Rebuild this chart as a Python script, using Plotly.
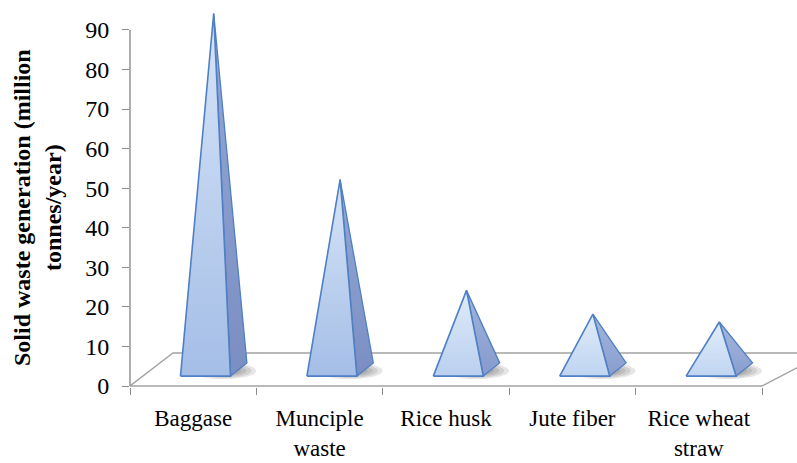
import numpy as np
import plotly.graph_objects as go

# ---- data -------------------------------------------------------------
categories = ["Baggase", "Munciple waste", "Rice husk", "Jute fiber", "Rice wheat straw"]
tick_labels = ["Baggase", "Munciple<br>waste", "Rice husk", "Jute fiber", "Rice wheat<br>straw"]
waste_mt = [90, 48, 20, 14, 12]          # million tonnes / year
y_ticks = [0, 10, 20, 30, 40, 50, 60, 70, 80, 90]

# ---- canvas / scale geometry -----------------------------------------
W, H = 797, 463
PLOT_L = 130            # left edge of plotting area (px)
PLOT_B = 387            # bottom edge of plotting area (px)
UNIT_X = 126.4          # px per category slot
UNIT_Y = 3.956          # px per million tonnes
X_MIN = -0.5
X_MAX = X_MIN + (W - PLOT_L) / UNIT_X
Y_MIN = -1.0 / UNIT_Y
Y_MAX = Y_MIN + PLOT_B / UNIT_Y

# oblique "3-D" depth projection
FLOOR_DY = 33 / UNIT_Y          # floor depth in value units
FLOOR_DX_L = 43 / UNIT_X        # receding offset at the left edge
FLOOR_DX_R = 63 / UNIT_X        # receding offset at the right edge
PYR_DX = 41 / UNIT_X            # receding offset per unit depth for the pyramids
PYR_DY = 33 / UNIT_Y
HALF_W = 25 / UNIT_X            # half width of a pyramid base
D_FRONT, D_BACK = 0.30, 0.70    # base depth span on the floor
D_MID = 0.5 * (D_FRONT + D_BACK)

GRAY = "#8c8c8c"
EDGE = "#4f7fc4"
FONT = "Liberation Serif"


def proj(x, v, d):
    return x + d * PYR_DX, v + d * PYR_DY


def mix(c1, c2, t):
    a = [int(c1[i:i + 2], 16) for i in (1, 3, 5)]
    b = [int(c2[i:i + 2], 16) for i in (1, 3, 5)]
    return "#" + "".join(f"{round(p + (q - p) * t):02x}" for p, q in zip(a, b))


fig = go.Figure()

# floor of the chart
n = len(categories)
fx = [X_MIN, X_MIN + n, X_MIN + n + FLOOR_DX_R, X_MIN + FLOOR_DX_L, X_MIN]
fy = [0, 0, FLOOR_DY, FLOOR_DY, 0]
fig.add_trace(go.Scatter(x=fx, y=fy, mode="lines", fill="toself",
                         fillcolor="white", line=dict(color="#a3a3a3", width=1.4),
                         hoverinfo="skip", showlegend=False))

# soft shadows beneath each pyramid
t = np.linspace(0, 2 * np.pi, 60)
for i, v in enumerate(waste_mt):
    cx, cy = proj(i + 0.09, 0, D_MID - 0.04)
    for s in [1.0, 0.85, 0.7, 0.55]:
        sx = cx + 0.26 * s * np.cos(t)
        sy = cy + 2.1 * s * np.sin(t)
        fig.add_trace(go.Scatter(x=sx, y=sy, mode="lines", fill="toself",
                                 fillcolor="rgba(60,60,60,0.13)", line=dict(width=0),
                                 hoverinfo="skip", showlegend=False))

# pyramids
for i, v in enumerate(waste_mt):
    fl = proj(i - HALF_W, 0, D_FRONT)
    fr = proj(i + HALF_W, 0, D_FRONT)
    br = proj(i + HALF_W, 0, D_BACK)
    ap = proj(i, v, D_MID)

    depth = min(v / 48.0, 1.0)
    side_bot = mix("#8fa3d3", "#7a8ec2", depth)
    side_top = mix("#a9bbe2", "#95a9d6", depth)
    fig.add_trace(go.Scatter(
        x=[fr[0], br[0], ap[0], fr[0]], y=[fr[1], br[1], ap[1], fr[1]],
        mode="lines", fill="toself",
        fillgradient=dict(type="vertical", colorscale=[[0, side_bot], [1, side_top]]),
        line=dict(color=EDGE, width=1.3), hoverinfo="skip", showlegend=False))

    front_bot = mix("#c9ddf4", "#a5bee7", depth)
    front_top = mix("#e6f0fb", "#d6e4f6", depth)
    fig.add_trace(go.Scatter(
        x=[fl[0], fr[0], ap[0], fl[0]], y=[fl[1], fr[1], ap[1], fl[1]],
        mode="lines", fill="toself",
        fillgradient=dict(type="vertical", colorscale=[[0, front_bot], [1, front_top]]),
        line=dict(color=EDGE, width=1.6), name=categories[i],
        hovertemplate=f"{categories[i]}: {v}<extra></extra>", showlegend=False))

fig.update_layout(
    width=W, height=H,
    margin=dict(l=PLOT_L, r=0, t=0, b=H - PLOT_B, autoexpand=False),
    paper_bgcolor="white", plot_bgcolor="white",
    font=dict(family=FONT, size=24, color="black"),
    xaxis=dict(range=[X_MIN, X_MAX], showgrid=False, zeroline=False, showline=False,
               automargin=False,
               tickmode="array", tickvals=list(range(n)), ticktext=tick_labels,
               ticks="", ticklabelstandoff=15, tickfont=dict(size=23),
               minor=dict(tickmode="array", tickvals=[X_MIN + k for k in range(n + 1)],
                          ticks="outside", ticklen=7, tickcolor=GRAY, tickwidth=1.2,
                          showgrid=False),
               fixedrange=True),
    yaxis=dict(range=[Y_MIN, Y_MAX], showgrid=False, zeroline=False, showline=False,
               automargin=False,
               tickmode="array", tickvals=y_ticks, ticks="outside", ticklen=7,
               tickcolor=GRAY, tickwidth=1.2, ticklabelstandoff=8, fixedrange=True),
    shapes=[dict(type="line", xref="paper", yref="y", x0=0, x1=0, y0=0, y1=max(y_ticks),
                 line=dict(color=GRAY, width=1.4))],
    annotations=[dict(text="<b>Solid waste generation (million<br>tonnes/year)</b>",
                      xref="paper", yref="paper",
                      x=(38 - PLOT_L) / (W - PLOT_L), y=(PLOT_B - 208) / PLOT_B,
                      xanchor="center", yanchor="middle", textangle=-90,
                      showarrow=False, font=dict(family=FONT, size=24, color="black"))],
)

fig.write_html("out.html")
